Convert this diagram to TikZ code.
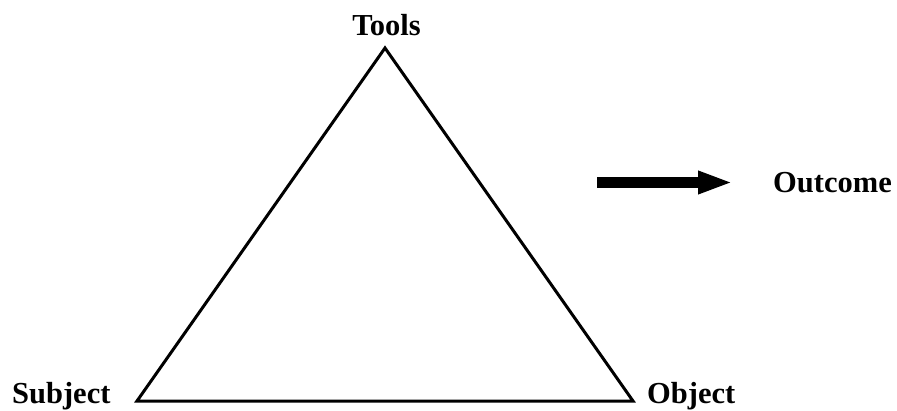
\documentclass[tikz,border=0pt]{standalone}
\usepackage{fontspec}
\setmainfont{Liberation Serif}
\usetikzlibrary{arrows.meta}
\begin{document}
\begin{tikzpicture}[x=1pt,y=1pt,
  lbl/.style={font=\fontsize{30.5}{34}\selectfont\bfseries, inner sep=0pt, anchor=base west},
  tri/.style={line width=3pt, line join=miter},
  bigarrow/.style={line width=11pt, -{Triangle[length=35pt,width=21pt]}}]
\useasboundingbox (0,0) rectangle (897,410);
\coordinate (T) at (385,362);
\coordinate (L) at (137,9);
\coordinate (R) at (633,9);
\draw[tri] (T) -- (L) -- (R) -- cycle;
\node[lbl, anchor=base] (tools) at (386.5,374) {Tools};
\node[lbl] (subject) at (12,7) {Subject};
\node[lbl] (object) at (647,7) {Object};
\node[lbl] (outcome) at (773,217) {Outcome};
\coordinate (a1) at (597,227.5);
\coordinate (a2) at (733,227.5);
\draw[bigarrow] (a1) -- (a2);
\end{tikzpicture}
\end{document}
